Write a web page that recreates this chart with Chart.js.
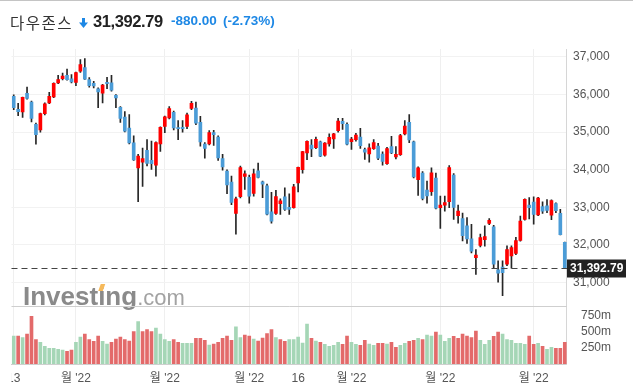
<!DOCTYPE html>
<html>
<head>
<meta charset="utf-8">
<script src="https://cdn.jsdelivr.net/npm/chart.js@4"></script>
<style>
  body { margin: 0; background: #fff; }
  #wrap { position: relative; width: 633px; height: 386px; overflow: hidden; border-top: 1px solid #c4c4c4; box-sizing: border-box; }
  #chart { position: absolute; left: 0; top: -1px; }
  #hdr span, #hdr svg { position: absolute; white-space: nowrap; line-height: 20px; }
  #hdr .nm { left: 10px; top: 9.5px; font: 15.5px "Noto Sans CJK KR", sans-serif; letter-spacing: 1.5px; color: #333; }
  #hdr svg { left: 79px; top: 17px; }
  #hdr .last { left: 93px; top: 10.6px; font: bold 16.5px "Liberation Sans", Arial, sans-serif; letter-spacing: -0.4px; color: #222; }
  #hdr .chg { left: 171px; top: 11.6px; font: bold 13.5px "Liberation Sans", Arial, sans-serif; color: #1e88e5; }
  #hdr .pct { left: 223px; top: 11.6px; font: bold 13.5px "Liberation Sans", Arial, sans-serif; color: #1e88e5; }
</style>
</head>
<body>
<div id="wrap">
  <canvas id="chart" width="633" height="386"></canvas>
  <div id="hdr">
    <span class="nm">다우존스</span>
    <svg width="9" height="10" viewBox="0 0 9 10"><rect x="3" y="0" width="3" height="5" fill="#1e88e5"/><polygon points="0,4.5 9,4.5 4.5,10" fill="#1e88e5"/></svg>
    <span class="last">31,392.79</span>
    <span class="chg">-880.00</span>
    <span class="pct">(-2.73%)</span>
  </div>
</div>
<script>
// trading days, 13 Dec 2021 - 10 Jun 2022
const dates = [
  '12/13','12/14','12/15','12/16','12/17','12/20','12/21','12/22','12/23','12/27','12/28','12/29','12/30','12/31',
  '1/3','1/4','1/5','1/6','1/7','1/10','1/11','1/12','1/13','1/14','1/18','1/19','1/20','1/21','1/24','1/25','1/26','1/27','1/28','1/31',
  '2/1','2/2','2/3','2/4','2/7','2/8','2/9','2/10','2/11','2/14','2/15','2/16','2/17','2/18','2/22','2/23','2/24','2/25','2/28',
  '3/1','3/2','3/3','3/4','3/7','3/8','3/9','3/10','3/11','3/14','3/15','3/16','3/17','3/18','3/21','3/22','3/23','3/24','3/25','3/28','3/29','3/30','3/31',
  '4/1','4/4','4/5','4/6','4/7','4/8','4/11','4/12','4/13','4/14','4/18','4/19','4/20','4/21','4/22','4/25','4/26','4/27','4/28','4/29',
  '5/2','5/3','5/4','5/5','5/6','5/9','5/10','5/11','5/12','5/13','5/16','5/17','5/18','5/19','5/20','5/23','5/24','5/25','5/26','5/27','5/31',
  '6/1','6/2','6/3','6/6','6/7','6/8','6/9','6/10'
];

const openP = [
  35955,35610,35540,36030,35800,35210,35060,35490,35780,35935,
  36310,36420,36510,36420,36320,36620,36720,36400,36300,36150,
  36040,36325,36310,35980,35660,35400,35110,34715,34050,34200,
  34520,34250,34125,34690,35150,35380,35530,35120,35130,35150,
  35630,35640,35265,34680,34690,34990,34870,34300,33965,33670,
  32840,33285,33826,33800,33370,33970,33680,33570,32880,32840,
  33100,33280,33000,32990,33650,34000,34450,34660,34590,34740,
  34390,34690,34820,35040,35290,35210,34745,34800,34870,34540,
  34420,34560,34630,34420,34160,34620,34345,34400,34955,35265,
  34740,33740,33910,33460,33420,33780,32990,33060,33150,33860,
  32780,32700,32510,32160,31660,31990,32140,32570,32480,31340,
  31415,31490,31710,31775,32120,32680,33060,33140,32800,33020,
  33040,32790,33100,32840,32070
];
const highP = [
  35990,35770,35935,36200,35830,35240,35510,35780,36060,36310,
  36510,36570,36680,36530,36600,36930,36960,36450,36350,36180,
  36270,36460,36510,36000,35680,35550,35470,34900,34410,34580,
  34800,34760,34740,35140,35430,35680,35560,35310,35310,35510,
  35820,35800,35420,34720,35040,35050,34900,34410,34000,33830,
  33275,34100,33970,33860,34020,34180,33700,33620,33400,33450,
  33230,33520,33360,33610,34070,34490,34770,34800,34870,34760,
  34720,34955,34970,35370,35370,35250,34860,34970,35100,34580,
  34690,34800,34700,34480,34600,34890,34620,34940,35310,35470,
  34760,34080,33950,33700,34050,33910,33300,33300,34110,33900,
  33060,32850,32730,32550,31880,32290,32510,32700,32520,31580,
  31580,31980,31980,32200,32770,33230,33260,33280,33270,33150,
  33210,33200,33120,32950,32080
];
const lowP = [
  35600,35440,35390,35880,35270,34680,35000,35460,35760,35920,
  36290,36390,36380,36310,36240,36590,36400,36200,36180,35650,
  35780,36160,36090,35650,35260,35010,34690,34250,33150,33560,
  34100,34010,33830,34490,34990,35350,35060,34800,35000,35090,
  35600,35200,34630,34310,34660,34650,34250,33990,33365,33070,
  32290,33250,33480,33110,33300,33780,33260,32800,32580,32810,
  32810,32920,32810,32980,33410,33910,34270,34350,34560,34350,
  34360,34630,34570,35000,35070,34660,34540,34760,34570,34275,
  34200,34540,34270,34120,34140,34430,34290,34380,34930,34720,
  33780,33320,33200,33110,33320,32960,32440,32900,32990,32680,
  32580,32110,32040,31790,31220,31950,31970,32540,31385,31010,
  30650,31450,31385,31740,32100,32660,32690,32550,32780,32840,
  32860,32670,32860,32270,31380
];
const closeP = [
  35651,35544,35927,35898,35365,34932,35493,35754,35951,36302,
  36398,36489,36398,36338,36585,36800,36407,36236,36232,36069,
  36252,36290,36114,35912,35368,35029,34715,34265,34365,34298,
  34168,34161,34725,35132,35405,35629,35111,35090,35091,35463,
  35768,35242,34738,34566,34989,34934,34312,34079,33597,33132,
  33224,34059,33893,33295,33891,33795,33615,32817,32633,33286,
  33174,32944,32945,33544,34063,34481,34755,34553,34807,34359,
  34708,34861,34956,35294,35229,34678,34818,34922,34641,34470,
  34584,34721,34308,34220,34565,34451,34412,34911,35161,34793,
  33811,34049,33240,33302,33916,32977,33062,33129,34061,32998,
  32899,32246,32161,31834,31730,32197,32223,32655,31490,31253,
  31262,31880,31929,32120,32637,33213,32990,32813,33248,32900,
  32916,33180,32911,32273,31392.79
];
// volume, millions
const volumeM = [
  434,434,413,465,744,382,336,274,243,243,
  227,217,196,217,336,418,465,382,351,434,
  351,310,336,388,418,382,356,506,661,506,
  537,506,558,465,382,351,382,336,320,320,
  320,398,398,367,294,310,336,398,434,367,
  579,413,450,434,388,356,403,475,537,413,
  382,351,382,382,418,326,620,398,356,336,
  305,274,289,336,305,434,336,305,289,367,
  310,289,320,320,310,336,258,289,320,351,
  367,398,382,450,434,496,450,351,398,429,
  398,465,434,413,512,367,305,367,429,496,
  465,382,367,320,320,305,434,305,320,274,
  227,258,243,243,336
];

const tickIdx = [0, 14, 34, 53, 64, 76, 96, 117];
const tickText = ['13', "월 '22", "월 '22", "월 '22", '16', "월 '22", "월 '22", "월 '22"];
const priceTicks = [31000, 32000, 33000, 34000, 35000, 36000, 37000];
const volTicks = [250, 500, 750];
const lastPrice = 31392.79;

const UP = '#ff0000', DOWN = '#4b9cd7';
const VOL_UP = '#a5d6b6', VOL_DOWN = '#e36a6a';
const FONT = '"Liberation Sans", Arial, "Noto Sans CJK KR", sans-serif';

const bodyColors = closeP.map((c, i) => c >= openP[i] ? UP : DOWN);
const volColors = closeP.map((c, i) => (i === 0 || c >= closeP[i - 1]) ? VOL_UP : VOL_DOWN);

const overlay = {
  id: 'overlay',
  beforeDatasetsDraw(chart) {
    const ctx = chart.ctx;
    ctx.save();
    ctx.textBaseline = 'alphabetic';
    ctx.font = 'bold 26px ' + FONT;
    ctx.fillStyle = '#8a8a8a';
    ctx.fillText('Investing', 23, 305);
    const w = ctx.measureText('Investing').width;
    const iX = 23 + ctx.measureText('Invest').width;
    const iw = ctx.measureText('i').width;
    ctx.font = '22px ' + FONT;
    ctx.fillStyle = '#a2a2a2';
    ctx.fillText('.com', 23 + w, 305);
    // orange dot on the i
    const cx = iX + iw / 2;
    ctx.fillStyle = '#f6b95a';
    ctx.beginPath();
    ctx.moveTo(cx - 3.5, 291);
    ctx.lineTo(cx + 1, 291);
    ctx.lineTo(cx + 3.5, 284);
    ctx.lineTo(cx - 1, 284);
    ctx.closePath();
    ctx.fill();
    ctx.restore();
  },
  afterDraw(chart) {
    const ctx = chart.ctx;
    const area = chart.chartArea;
    const y = chart.scales.y;
    const yv = chart.scales.yv;
    ctx.save();
    // pane separator
    ctx.strokeStyle = '#cfcfcf';
    ctx.lineWidth = 1;
    ctx.beginPath();
    ctx.moveTo(area.left, Math.round(yv.top) + 0.5);
    ctx.lineTo(area.right, Math.round(yv.top) + 0.5);
    ctx.stroke();
    // last price line
    const py = Math.round(y.getPixelForValue(lastPrice)) + 0.5;
    ctx.strokeStyle = '#444';
    ctx.setLineDash([6, 4]);
    ctx.beginPath();
    ctx.moveTo(area.left, py);
    ctx.lineTo(area.right, py);
    ctx.stroke();
    ctx.setLineDash([]);
    // last price label
    ctx.fillStyle = '#222';
    ctx.fillRect(area.right, py - 9, 59, 18);
    ctx.fillStyle = '#fff';
    ctx.font = 'bold 12px ' + FONT;
    ctx.textBaseline = 'middle';
    ctx.textAlign = 'left';
    ctx.fillText(lastPrice.toLocaleString('en-US', { minimumFractionDigits: 2 }), area.right + 3, py + 0.5);
    // first date label is cut at the left edge
    ctx.fillStyle = '#fff';
    ctx.fillRect(0, area.bottom + 1, area.left, 386 - area.bottom);
    ctx.restore();
  }
};

new Chart(document.getElementById('chart'), {
  type: 'bar',
  data: {
    labels: dates,
    datasets: [
      {
        label: 'body',
        data: openP.map((o, i) => [o, closeP[i]]),
        backgroundColor: bodyColors,
        barThickness: 3,
        grouped: false,
        order: 0,
        yAxisID: 'y'
      },
      {
        label: 'wick',
        data: lowP.map((l, i) => [l, highP[i]]),
        backgroundColor: '#262626',
        barThickness: 1,
        grouped: false,
        order: 1,
        yAxisID: 'y'
      },
      {
        label: 'volume',
        data: volumeM,
        backgroundColor: volColors,
        barThickness: 3,
        grouped: false,
        order: 2,
        yAxisID: 'yv'
      }
    ]
  },
  options: {
    responsive: false,
    devicePixelRatio: 1,
    animation: false,
    events: [],
    layout: { padding: { top: 49, left: 10, right: 0, bottom: 0 } },
    plugins: { legend: { display: false }, tooltip: { enabled: false } },
    scales: {
      x: {
        offset: true,
        grid: { color: '#efefef', drawTicks: false, offset: false },
        border: { color: '#cfcfcf' },
        ticks: {
          autoSkip: false,
          maxRotation: 0,
          padding: 7,
          color: '#555',
          font: { family: FONT, size: 12 },
          callback: (v, i) => {
            const k = tickIdx.indexOf(i);
            return k >= 0 ? tickText[k] : null;
          }
        },
        afterFit: s => { s.height = 22; }
      },
      y: {
        position: 'right',
        stack: 'panes',
        stackWeight: 258,
        min: 30372,
        max: 37212,
        grid: { color: '#f2f2f2', drawTicks: false },
        border: { color: '#d6d6d6' },
        ticks: {
          autoSkip: false,
          padding: 6,
          color: '#555',
          font: { family: FONT, size: 12 },
          callback: v => v.toLocaleString('en-US')
        },
        afterBuildTicks: s => { s.ticks = priceTicks.map(v => ({ value: v })); },
        afterFit: s => { s.width = 66; }
      },
      yv: {
        position: 'right',
        stack: 'panes',
        stackWeight: 58,
        min: 0,
        max: 900,
        grid: { display: false },
        border: { color: '#d6d6d6' },
        ticks: {
          autoSkip: false,
          padding: 6,
          color: '#555',
          font: { family: FONT, size: 12 },
          callback: v => v + 'm'
        },
        afterBuildTicks: s => { s.ticks = volTicks.map(v => ({ value: v })); },
        afterFit: s => { s.width = 66; }
      }
    }
  },
  plugins: [overlay]
});
</script>
</body>
</html>
